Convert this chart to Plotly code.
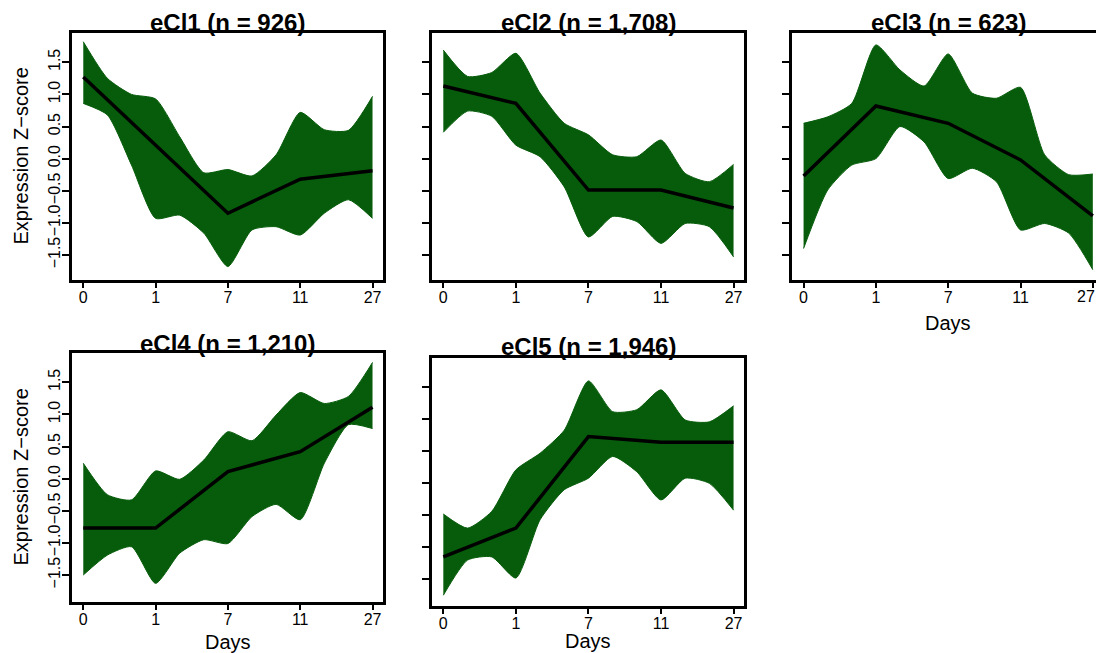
import plotly.graph_objects as go

W, H = 1096, 653

# ---------------- data ----------------
days = ["0", "1", "7", "11", "27"]
titles = ["eCl1 (n = 926)", "eCl2 (n = 1,708)", "eCl3 (n = 623)",
          "eCl4 (n = 1,210)", "eCl5 (n = 1,946)"]
yticks = [-1.5, -1.0, -0.5, 0.0, 0.5, 1.0, 1.5]
ytick_labels = ["\u22121.5", "\u22121.0", "\u22120.5", "0.0", "0.5", "1.0", "1.5"]

# envelope of gene profiles, sampled every third of a time-step (13 points)
upper1 = [1.82, 1.25, 1.00, 0.93, 0.34, -0.22, -0.17, -0.27, 0.06, 0.72, 0.45, 0.44, 0.97]
lower1 = [0.86, 0.68, -0.10, -0.93, -0.88, -1.16, -1.68, -1.11, -1.06, -1.19, -0.85, -0.64, -0.93]
mean1 = [1.27, 0.21, -0.85, -0.32, -0.19]

upper2 = [1.69, 1.28, 1.34, 1.64, 1.02, 0.55, 0.37, 0.06, 0.03, 0.29, -0.23, -0.36, -0.09]
lower2 = [0.41, 0.74, 0.66, 0.21, 0.03, -0.44, -1.22, -0.90, -0.98, -1.32, -1.01, -1.06, -1.53]
mean2 = [1.13, 0.86, -0.49, -0.49, -0.77]

upper3 = [0.55, 0.65, 0.86, 1.77, 1.38, 1.13, 1.63, 1.02, 0.94, 1.11, 0.06, -0.25, -0.24]
lower3 = [-1.40, -0.49, -0.10, 0.00, 0.50, 0.26, -0.31, -0.15, -0.36, -1.11, -1.01, -1.16, -1.73]
mean3 = [-0.27, 0.82, 0.55, -0.02, -0.89]

upper4 = [0.24, -0.25, -0.33, 0.12, -0.01, 0.29, 0.73, 0.59, 0.99, 1.34, 1.17, 1.28, 1.81]
lower4 = [-1.50, -1.19, -1.06, -1.63, -1.16, -0.95, -1.01, -0.59, -0.40, -0.64, 0.24, 0.84, 0.78]
mean4 = [-0.77, -0.77, 0.11, 0.42, 1.11]

upper5 = [-0.49, -0.71, -0.45, 0.20, 0.46, 0.82, 1.59, 1.11, 1.14, 1.45, 0.98, 0.95, 1.20]
lower5 = [-1.76, -1.21, -1.16, -1.49, -0.58, -0.11, 0.07, 0.41, 0.17, -0.27, 0.07, -0.01, -0.43]
mean5 = [-1.16, -0.71, 0.72, 0.63, 0.63]

uppers = [upper1, upper2, upper3, upper4, upper5]
lowers = [lower1, lower2, lower3, lower4, lower5]
means = [mean1, mean2, mean3, mean4, mean5]

# ---------------- layout geometry (pixels) ----------------
boxes = [  # left, right, top, bottom
    (72, 383, 33, 280),
    (432, 744, 33, 280),
    (792, 1096, 33, 280),
    (72, 383, 353, 602),
    (432, 744, 358, 606),
]
xranges = [[-0.156, 4.145], [-0.156, 4.144], [-0.16, 4.044], [-0.156, 4.145], [-0.156, 4.144]]
yranges = [[-1.89, 1.956], [-1.89, 1.956], [-1.89, 1.956], [-1.92, 1.956], [-1.927, 1.948]]
full_right = [383, 744, 1104, 383, 744]
show_ylabels = [True, False, False, True, False]
days_y = [None, None, 323, 642, 641]
title_y = [23, 23, 23, 343, 346]

GREEN = "#065C0A"
FONT = "Liberation Sans, Arial, Helvetica, sans-serif"

fig = go.Figure()
n_idx = len(upper1)
xfine = [k / 3 for k in range(n_idx)]
xcat = list(range(len(days)))

annotations = []
for i in range(5):
    ax = "" if i == 0 else str(i + 1)
    up, lo, mn = uppers[i], lowers[i], means[i]
    fig.add_trace(go.Scatter(
        x=xfine, y=up, mode="lines",
        line=dict(color=GREEN, width=1, shape="spline", smoothing=0.6),
        xaxis="x" + ax, yaxis="y" + ax, hoverinfo="skip", showlegend=False))
    fig.add_trace(go.Scatter(
        x=xfine, y=lo, mode="lines", fill="tonexty", fillcolor=GREEN,
        line=dict(color=GREEN, width=1, shape="spline", smoothing=0.6),
        xaxis="x" + ax, yaxis="y" + ax, hoverinfo="skip", showlegend=False))
    fig.add_trace(go.Scatter(
        x=xcat, y=mn, mode="lines", line=dict(color="black", width=3.5),
        xaxis="x" + ax, yaxis="y" + ax, showlegend=False))

    l, r, t, b = boxes[i]
    # last label of the clipped right-hand panel is placed as an annotation
    ttext = days if i != 2 else days[:-1] + [""]
    xa = dict(domain=[l / W, r / W], range=xranges[i], anchor="y" + ax,
              tickmode="array", tickvals=xcat, ticktext=ttext,
              showline=True, linecolor="black", linewidth=2.5, mirror=True,
              ticks="outside", ticklen=5, tickwidth=2, tickcolor="black",
              showgrid=False, zeroline=False, ticklabelstandoff=-4,
              tickfont=dict(family=FONT, size=16, color="black"))
    ya = dict(domain=[1 - b / H, 1 - t / H], range=yranges[i], anchor="x" + ax,
              tickmode="array", tickvals=yticks, ticktext=ytick_labels,
              tickangle=-90, showticklabels=show_ylabels[i],
              showline=True, linecolor="black", linewidth=2.5,
              mirror=(i != 2), ticklabelstandoff=-4,
              ticks="outside", ticklen=7, tickwidth=2, tickcolor="black",
              showgrid=False, zeroline=False,
              tickfont=dict(family=FONT, size=16, color="black"))
    fig.update_layout(**{"xaxis" + ax: xa, "yaxis" + ax: ya})

    cx = (l + full_right[i]) / 2
    annotations.append(dict(text="<b>" + titles[i] + "</b>", x=cx / W, y=1 - title_y[i] / H,
                            xref="paper", yref="paper", showarrow=False,
                            xanchor="center", yanchor="middle",
                            font=dict(family=FONT, size=24, color="black")))
    if i == 2:
        annotations.append(dict(text=days[-1], x=1.0, y=1 - (b + 16) / H,
                                xref="paper", yref="paper", showarrow=False,
                                xanchor="right", yanchor="middle", borderpad=0,
                                font=dict(family=FONT, size=16, color="black")))
    if days_y[i] is not None:
        annotations.append(dict(text="Days", x=cx / W, y=1 - days_y[i] / H,
                                xref="paper", yref="paper", showarrow=False,
                                xanchor="center", yanchor="middle",
                                font=dict(family=FONT, size=20, color="black")))
    if show_ylabels[i]:
        annotations.append(dict(text="Expression Z\u2212score", x=20 / W, y=1 - ((t + b) / 2) / H,
                                xref="paper", yref="paper", showarrow=False, textangle=-90,
                                xanchor="center", yanchor="middle",
                                font=dict(family=FONT, size=20, color="black")))

fig.update_layout(width=W, height=H, margin=dict(l=0, r=0, t=0, b=0),
                  paper_bgcolor="white", plot_bgcolor="white",
                  annotations=annotations, showlegend=False)

fig.write_html("out.html")
